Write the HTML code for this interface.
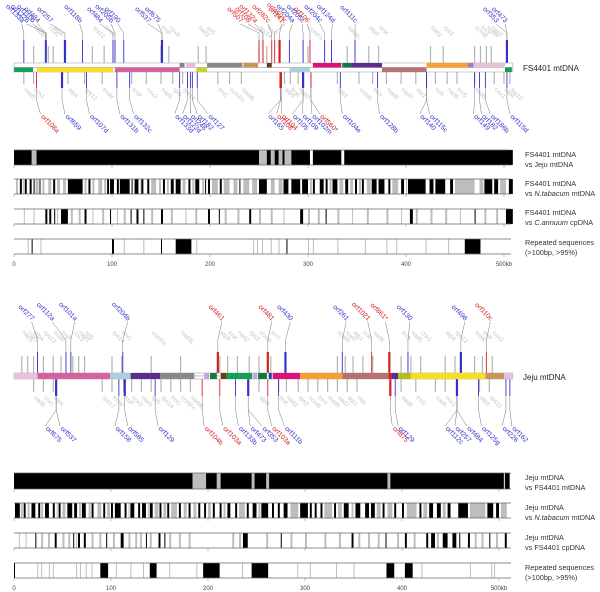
<!DOCTYPE html>
<html><head><meta charset="utf-8"><style>
html,body{margin:0;padding:0;background:#fff;}
svg{display:block;font-family:"Liberation Sans",sans-serif;}
</style></head><body>
<svg id="fig" width="600" height="592" viewBox="0 0 600 592" xmlns="http://www.w3.org/2000/svg">
<text x="523" y="71" font-size="8" fill="#222">FS4401 mtDNA</text>
<text x="523" y="380" font-size="8" fill="#222">Jeju mtDNA</text>
<g font-size="7.3" fill="#333">
<text x="525" y="157"><tspan x="525">FS4401 mtDNA</tspan><tspan x="525" dy="10">vs Jeju mtDNA</tspan></text>
<text x="525" y="186"><tspan x="525">FS4401 mtDNA</tspan><tspan x="525" dy="10">vs <tspan font-style="italic">N.tabacum</tspan> mtDNA</tspan></text>
<text x="525" y="215"><tspan x="525">FS4401 mtDNA</tspan><tspan x="525" dy="10">vs <tspan font-style="italic">C.annuum</tspan> cpDNA</tspan></text>
<text x="525" y="245"><tspan x="525">Repeated sequences</tspan><tspan x="525" dy="10">(&gt;100bp, &gt;95%)</tspan></text>
<text x="525" y="480"><tspan x="525">Jeju mtDNA</tspan><tspan x="525" dy="10">vs FS4401 mtDNA</tspan></text>
<text x="525" y="510"><tspan x="525">Jeju mtDNA</tspan><tspan x="525" dy="10">vs <tspan font-style="italic">N.tabacum</tspan> mtDNA</tspan></text>
<text x="525" y="540"><tspan x="525">Jeju mtDNA</tspan><tspan x="525" dy="10">vs FS4401 cpDNA</tspan></text>
<text x="525" y="570"><tspan x="525">Repeated sequences</tspan><tspan x="525" dy="10">(&gt;100bp, &gt;95%)</tspan></text>
</g>
</svg>
<script>
// ---------- data ----------
var axisTicks = [0, 100, 200, 300, 400, 500];
var axisLabels = ["0", "100", "200", "300", "400", "500kb"];

// FS4401 tracks [startKb, endKb]
var fsJejuBlack = [[0,18],[23,250],[258,262],[266,270],[274,276],[283,302],[305,334],[337,509]];
var fsJejuGray = [[18,23],[250,258],[262,266],[270,274],[276,283],[471,472]];
var fsTabBlack = [[6,8],[11,13],[16,18],[20,21],[26,27],[40,42],[55,70],[76,78],[95,97],[98,102],[105,107],[108,118],[120,121],[123,127],[130,132],[136,138],[152,154],[160,163],[165,170],[178,180],[185,189],[195,196],[198,200],[210,212],[230,231],[250,258],[275,280],[283,292],[294,300],[305,307],[312,316],[318,320],[325,330],[338,341],[348,350],[355,357],[365,370],[372,378],[382,384],[395,398],[402,420],[424,428],[430,440],[445,448],[480,488],[490,494],[505,509]];
var fsTabGray = [[2,4],[9,10],[22,25],[29,31],[35,38],[44,47],[50,53],[72,74],[80,82],[86,90],[92,94],[129,130],[140,145],[148,150],[156,158],[172,175],[182,184],[192,194],[202,208],[214,220],[224,228],[234,240],[243,248],[262,266],[270,274],[302,304],[322,324],[332,336],[343,346],[352,354],[360,364],[386,392],[400,401],[450,470],[475,479],[496,502]];
var fsCpBlack = [[32,34],[36,38],[41,42],[48,55],[72,74],[98,99],[119,120],[125,127],[132,133],[150,152],[198,200],[209,210],[240,242],[292,295],[318,319],[404,407],[470,471],[502,509]];
var fsCpGray = [[10,11],[20,21],[44,45],[58,60],[66,68],[80,81],[90,92],[105,106],[112,114],[140,142],[160,162],[175,176],[185,187],[215,217],[228,230],[250,252],[262,264],[275,276],[300,302],[310,312],[330,332],[345,346],[360,362],[380,382],[395,396],[410,412],[425,427],[440,442],[455,456],[480,482],[492,494]];
var fsRepBlack = [[18,19],[100,102],[150,151],[165,181],[278,279],[460,476]];
var fsRepGray = [[14,15],[27,28],[112,113],[132,133],[186,187],[244,245],[248,249],[253,254],[262,263],[270,271],[300,301],[305,306],[330,331],[358,359],[380,381],[390,391],[420,421],[443,444]];

// Jeju tracks
var jjFsBlack = [[0,184],[198,209],[213,245],[248,260],[263,385],[388,505],[506,511]];
var jjFsGray = [[184,198],[209,213],[245,248],[260,263],[385,388]];
var jjTabBlack = [[1,6],[10,12],[18,22],[25,27],[32,36],[40,42],[46,48],[55,60],[62,65],[70,74],[80,82],[92,94],[100,102],[104,110],[114,116],[120,124],[128,130],[132,136],[140,143],[150,152],[158,160],[170,172],[180,182],[190,192],[196,198],[205,207],[212,214],[220,223],[228,230],[240,242],[246,250],[255,262],[266,268],[272,274],[278,282],[295,303],[305,307],[310,312],[316,318],[330,332],[340,345],[352,357],[362,366],[368,372],[380,382],[392,394],[400,402],[418,420],[428,432],[436,440],[447,450],[458,468],[488,494],[497,500]];
var jjTabGray = [[7,9],[14,16],[28,30],[44,45],[50,53],[67,69],[77,79],[86,90],[96,99],[118,119],[138,139],[145,149],[154,157],[162,168],[175,178],[185,188],[200,203],[216,218],[232,238],[252,254],[285,293],[320,328],[334,338],[348,350],[374,378],[385,390],[405,415],[422,426],[442,445],[470,486],[502,508]];
var jjCpBlack = [[22,23],[42,44],[61,62],[66,68],[72,74],[95,96],[110,113],[136,137],[149,151],[155,156],[236,241],[275,276],[348,350],[383,384],[403,405],[425,427],[430,434],[442,447],[452,456],[459,460],[468,470],[490,491],[506,508]];
var jjCpGray = [[5,6],[12,13],[28,30],[35,37],[50,52],[56,58],[64,65],[80,82],[88,90],[102,104],[118,120],[125,127],[130,132],[140,142],[160,162],[170,172],[180,182],[225,227],[232,234],[260,262],[285,287],[300,302],[320,322],[335,337],[355,357],[365,367],[375,377],[395,397],[412,414],[436,438],[475,477],[482,484],[497,499]];
var jjRepBlack = [[0,1],[89,97],[140,147],[195,212],[245,262],[384,392],[403,411]];
var jjRepGray = [[24,25],[28,29],[36,37],[40,41],[64,65],[68,69],[74,75],[80,81],[105,106],[120,121],[133,134],[160,161],[188,189],[235,236],[292,293],[305,306],[332,333],[350,351],[420,421],[470,471],[492,493],[495,496]];

// Map segments [startKb, endKb, color, strand(0 upper,1 lower,2 both)]
var fsSegments = [[0,19.4,"#12a05a",1],[23.5,101,"#f5e020",1],[103,169,"#d8609c",1],[169,174,"#8c7f8c",0],[175.5,185,"#e2bce0",0],[186,197,"#c8d22a",1],[197,233,"#888888",0],[234,249,"#c8965a",0],[258,263,"#6b3a10",0],[281,302,"#a8d0e0",1],[305,334,"#e0107a",0],[335,344,"#117a40",0],[344,375.5,"#5a2d8c",0],[375.5,421,"#b87070",1],[421,463,"#f5a030",0],[463,469,"#a080b0",0],[469,501,"#e8c0dc",0],[501,508,"#10a050",1]];
var jjSegments = [[1,24,"#e8c0dc",2],[24,98,"#d8609c",2],[98,119,"#a8d0e0",2],[119,149,"#5a2d8c",2],[149,184,"#888888",2],[194,199,"#c0a8d8",2],[200,207,"#117a40",2],[211,217,"#6b3a10",2],[217,243,"#12a05a",2],[244,248,"#c0a8d8",2],[249,258,"#117a40",2],[260,263,"#2040a0",2],[264,292,"#e0107a",2],[292,335,"#f5a030",2],[335,382,"#b87070",2],[382,385,"#e02020",2],[385,392,"#5a2d8c",2],[392,405,"#b8b820",2],[405,481,"#f5e020",2],[481,500,"#c8965a",2],[500,509,"#e8c0dc",2]];

// Gene labels: [name, geneKb, labelKb, color("b"/"r"), thick(0/1)]
var fsTopGenes = [["orf133a",10,8,"b",0],["orf122b",32,13,"b",0],["orf110b",32,19,"b",0],["orf484",33,24,"b",0],["orf257",52,37,"b",1],["orf118b",70,67,"b",0],["orf484",101,88,"b",0],["orf205b",103,99,"b",0],["orf190",112,106,"b",0],["orf537",151,137,"b",1],["orf675",151,147,"b",0],["orf507",250,231,"r",0],["orf108",254,239,"r",0],["orf132a",254,246,"r",0],["orf282c",263,259,"r",0],["orf450*c",266,276,"r",0],["orf141",271,273,"r",1],["orf204a",281,284,"b",0],["orf205c",295,294,"b",0],["orf106",302,299,"r",0],["orf204c",317,312,"b",0],["orf124d",324,325,"b",0],["orf111c",348,348,"b",0],["orf353",503,492,"b",1],["orf473",503,501,"b",0]];
var fsBotGenes = [["orf108a",23,27,"r",0],["orf659",49,52,"b",1],["orf107d",74,77,"b",0],["orf131b",105,108,"b",0],["orf132c",118,122,"b",0],["orf133d",169,164,"b",0],["orf122d",177,172,"b",0],["orf248",180,180,"b",0],["orf182",182,187,"b",0],["orf127",187,198,"b",0],["orf165",272,259,"b",0],["orf108",272,268,"r",1],["orf104",273,273,"r",0],["orf105",295,284,"b",1],["orf109",295,294,"b",0],["orf102m",303,304,"b",0],["orf560*",303,312,"r",0],["orf104e",333,335,"b",0],["orf128b",371,373,"b",0],["orf140",421,414,"b",0],["orf115c",421,424,"b",0],["orf149",470,469,"b",0],["orf182",475,477,"b",0],["orf186b",481,486,"b",0],["orf115d",503,506,"b",0]];
var jjTopGenes = [["orf277",24,18,"b",0],["orf112a",53,39,"b",0],["orf101a",58,62,"b",0],["orf204b",111,116,"b",0],["orf461",208,212,"r",1],["orf481",259,263,"r",1],["orf430",277,282,"b",1],["orf261",335,339,"b",0],["orf1021",365,361,"r",0],["orf861*",383,379,"r",1],["orf130",402,404,"b",0],["orf498",456,460,"b",1],["orf110c",482,486,"r",0]];
var jjBotGenes = [["orf675",43,32,"b",1],["orf537",43,47,"b",0],["orf158",107,103,"b",0],["orf585",113,116,"b",1],["orf129",144,147,"b",0],["orf104b",192,194,"r",0],["orf103a",210,213,"r",0],["orf133b",226,229,"b",0],["orf473",239,241,"b",1],["orf353",239,253,"b",0],["orf103a",259,263,"r",0],["orf111b",270,276,"b",0],["orf875",384,386,"r",1],["orf129",389,392,"b",0],["orf112c",452,440,"b",1],["orf257",452,450,"b",0],["orf484",452,462,"b",0],["orf125g",474,477,"b",0],["orf226",502,498,"b",0],["orf162",506,508,"b",0]];

// Grey (conserved gene) labels [name, kb]
var greyNames = ["nad5","cox1","atp4","rps12","trnW","trnP","cox3","nad1","rpl5","rps14","trnC","ccmFn","nad4L","atp9","trnK","nad2","rps3","ccmB","trnY","matR","nad7","atp1","cob","nad6","trnS"];
var fsGreyTop = [20,35,40,80,92,150,158,188,196,250,258,300,340,362,372,425,438,470,476,482,487];
var fsGreyBot = [10,20,55,72,90,120,135,150,162,172,208,220,232,276,282,290,330,352,366,380,395,410,430,442,452,470,490,500,506];
var jjGreyTop = [8,14,20,30,40,48,60,66,72,100,110,140,170,210,218,228,240,250,262,330,338,346,356,366,395,405,415,440,450,470,478,488];
var jjGreyBot = [20,30,40,90,100,112,120,130,140,150,160,170,180,250,270,278,290,300,310,320,330,340,350,395,410,430,440,475,485];

// ---------- scales ----------
function xMap(kb){ return 14 + kb*0.98; }
function xTop(kb){ return 14 + kb*0.98; }
function xBot(kb){ return 14 + kb*0.97; }
var NS = "http://www.w3.org/2000/svg";
var svg = document.getElementById("fig");
function add(tag, attrs, parent){
  var el = document.createElementNS(NS, tag);
  for (var k in attrs) el.setAttribute(k, attrs[k]);
  (parent || svg).appendChild(el);
  return el;
}
var BLUE = "#3232c8", RED = "#d42020";

// ---------- comparison tracks ----------
function drawTrack(xf, y, h, black, gray, solidBg, name){
  var g = add("g", {});
  
  
  gray.forEach(function(s){
    var r = add("rect", {x: xf(s[0]), y: y, width: Math.max(0.8, xf(s[1]) - xf(s[0])), height: h, fill: "#bdbdbd"}, g);
    
    
  });
  black.forEach(function(s){
    var r = add("rect", {x: xf(s[0]), y: y, width: Math.max(1, xf(s[1]) - xf(s[0])), height: h, fill: "#000"}, g);
    
    
  });
  var l1 = add("line", {x1: xf(0), x2: 511, y1: y, y2: y, stroke: "#666", "stroke-width": 0.8}, g);
  
  
  var l2 = add("line", {x1: xf(0), x2: 511, y1: y + h, y2: y + h, stroke: "#666", "stroke-width": 0.8}, g);
  
  
  axisTicks.forEach(function(t){
    var tk = add("line", {x1: xf(t), x2: xf(t), y1: y + h, y2: y + h + 3, stroke: "#999", "stroke-width": 0.6}, g);
    
    
  });
}
function drawAxis(xf, y, name){
  axisTicks.forEach(function(t, i){
    var tx = add("text", {x: xf(t), y: y, "font-size": 6, fill: "#444", "text-anchor": "middle"});
    tx.textContent = axisLabels[i];
    
    
  });
}
drawTrack(xTop, 150, 15, fsJejuBlack, fsJejuGray, true, 'fs-vs-jeju-track');
drawTrack(xTop, 179, 15, fsTabBlack, fsTabGray, false, 'fs-vs-tabacum-track');
drawTrack(xTop, 209, 15, fsCpBlack, fsCpGray, false, 'fs-vs-annuum-cp-track');
drawTrack(xTop, 239, 15, fsRepBlack, fsRepGray, false, 'fs-repeats-track');
drawAxis(xTop, 266, 'fs-axis-tick-label');
drawTrack(xBot, 473, 16, jjFsBlack, jjFsGray, true, 'jeju-vs-fs-track');
drawTrack(xBot, 503, 15, jjTabBlack, jjTabGray, false, 'jeju-vs-tabacum-track');
drawTrack(xBot, 533, 15, jjCpBlack, jjCpGray, false, 'jeju-vs-cp-track');
drawTrack(xBot, 563, 15, jjRepBlack, jjRepGray, false, 'jeju-repeats-track');
drawAxis(xBot, 590, 'jeju-axis-tick-label');

// ---------- genome maps ----------
function drawGreys(list, baseY, dir, tickY1, tickY2, name){
  list.forEach(function(kb, i){
    var x = xMap(kb);
    var tk = add("line", {x1: x, x2: x, y1: tickY1, y2: tickY2, stroke: "#b4b4b4", "stroke-width": 1.2});
    
    
    var t = add("text", {x: x, y: baseY, "font-size": 6, fill: "#c4c4c4", "text-anchor": dir < 0 ? "end" : "start", transform: "rotate(45 " + x + " " + baseY + ")"});
    t.textContent = greyNames[i % greyNames.length];
    
    
  });
}
function drawGenes(list, dir, tickA, tickB, joinY, labelY, name){
  list.forEach(function(g){
    var gx = xMap(g[1]), lx = xMap(g[2]);
    var col = g[3] === "r" ? RED : BLUE;
    var c = add("polyline", {points: lx + "," + labelY + " " + gx + "," + joinY + " " + gx + "," + tickB, fill: "none", stroke: "#777", "stroke-width": 0.5});
    
    
    var tk = add("line", {x1: gx, x2: gx, y1: tickA, y2: tickB, stroke: col, "stroke-width": g[4] ? 2.2 : 0.9});
    
    
    var ty = labelY + (dir < 0 ? -1 : 3);
    var t = add("text", {x: lx, y: ty, "font-size": 6.8, fill: col, "text-anchor": dir < 0 ? "end" : "start", transform: "rotate(45 " + lx + " " + ty + ")"});
    t.textContent = g[0];
    
    
  });
}
function drawBackbone(segs, yU, yL, h, name){
  var g = add("g", {});
  
  
  var r1 = add("rect", {x: xMap(0), y: yU, width: xMap(509) - xMap(0), height: h, fill: "#fff", stroke: "#aaa", "stroke-width": 0.6}, g);
  
  
  var r2 = add("rect", {x: xMap(0), y: yL, width: xMap(509) - xMap(0), height: h, fill: "#fff", stroke: "#aaa", "stroke-width": 0.6}, g);
  
  
  segs.forEach(function(s){
    var y = s[3] === 1 ? yL : yU;
    var hh = s[3] === 2 ? (yL + h - yU) : h;
    var r = add("rect", {x: xMap(s[0]), y: y, width: xMap(s[1]) - xMap(s[0]), height: hh, fill: s[2]}, g);
    
    
  });
}
// FS4401 map
drawGreys(fsGreyTop, 28, 1, 46, 63, 'fs');
drawGreys(fsGreyBot, 90, 1, 72, 84, 'fs');
drawGenes(fsTopGenes, -1, 40, 63, 33, 24, 'fs-orf-label-top');
drawGenes(fsBotGenes, 1, 72, 88, 100, 114, 'fs-orf-label-bottom');
drawBackbone(fsSegments, 63, 67.5, 4.5, 'fs4401-genome-map');
// Jeju map
drawGreys(jjGreyTop, 333, 1, 356, 373, 'jeju');
drawGreys(jjGreyBot, 398, 1, 379, 392, 'jeju');
drawGenes(jjTopGenes, -1, 352, 373, 340, 322, 'jeju-orf-label-top');
drawGenes(jjBotGenes, 1, 379, 396, 410, 426, 'jeju-orf-label-bottom');
drawBackbone(jjSegments, 373, 376, 3, 'jeju-genome-map');
</script>
</body></html>
